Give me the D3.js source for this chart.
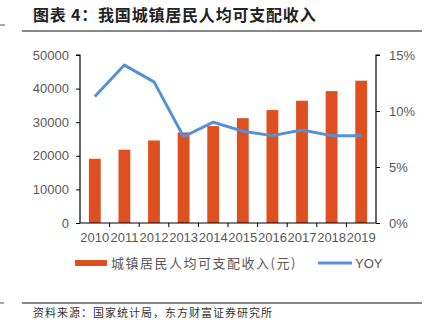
<!DOCTYPE html>
<html><head><meta charset="utf-8">
<script src="https://cdn.jsdelivr.net/npm/d3@7/dist/d3.min.js"></script>
<style>body{margin:0;background:#fff;} svg{display:block;}</style>
</head><body>
<svg id="c" width="431" height="331"></svg>
<script>
const years = ["2010","2011","2012","2013","2014","2015","2016","2017","2018","2019"];
const income = [19109, 21810, 24565, 26955, 28844, 31195, 33616, 36396, 39251, 42359];
const yoy = [11.3, 14.1, 12.6, 7.7, 9.0, 8.2, 7.8, 8.3, 7.8, 7.8];
const leftTicks = [0, 10000, 20000, 30000, 40000, 50000];
const rightTicks = [0, 5, 10, 15];
const titleText = "图表 4：我国城镇居民人均可支配收入";
const sourceText = "资料来源：国家统计局，东方财富证券研究所";
const barLabel = "城镇居民人均可支配收入(元)";
const lineLabel = "YOY";

const svg = d3.select("#c");
const m = {l: 80, r: 376, t: 55, b: 223};
const x = d3.scaleBand().domain(years).range([m.l, m.r]).paddingInner(0.6).paddingOuter(0.3);
const xb = d3.scaleBand().domain(years).range([m.l, m.r]);
const yL = d3.scaleLinear().domain([0, 50000]).range([m.b, m.t]);
const yR = d3.scaleLinear().domain([0, 15]).range([m.b, m.t]);
const font = "Arial, 'Liberation Sans', sans-serif";
const cjk = "'Noto Sans CJK SC', sans-serif";

// title
svg.append("text").attr("x", 33).attr("y", 21).text(titleText)
  .attr("font-family", cjk).attr("font-weight", "bold").attr("font-size", 16)
  .attr("letter-spacing", 0.8).attr("fill", "#222");
svg.append("line").attr("x1", 22).attr("x2", 422).attr("y1", 31).attr("y2", 31).attr("stroke", "#111").attr("stroke-width", 1);
svg.append("line").attr("x1", 0).attr("x2", 5).attr("y1", 25).attr("y2", 25).attr("stroke", "#555").attr("stroke-width", 1);

// bars
svg.append("g").selectAll("rect").data(income).join("rect")
  .attr("x", (d, i) => x(years[i])).attr("width", x.bandwidth())
  .attr("y", d => yL(d)).attr("height", d => m.b - yL(d))
  .attr("fill", "#DE5020");

// line
svg.append("path").datum(yoy)
  .attr("d", d3.line().x((d, i) => xb(years[i]) + xb.bandwidth() / 2).y(d => yR(d)))
  .attr("fill", "none").attr("stroke", "#5591D8").attr("stroke-width", 3).attr("stroke-linejoin", "round");

// axes
const axL = svg.append("g").attr("transform", `translate(${m.l},0)`)
  .call(d3.axisLeft(yL).tickValues(leftTicks).tickSize(4).tickPadding(7).tickFormat(d3.format("d")));
const axR = svg.append("g").attr("transform", `translate(${m.r},0)`)
  .call(d3.axisRight(yR).tickValues(rightTicks).tickSize(4).tickPadding(9).tickFormat(d => d + "%"));
const axB = svg.append("g").attr("transform", `translate(0,${m.b})`)
  .call(d3.axisBottom(xb).tickSize(0).tickPadding(10));
// boundary ticks on x axis
svg.append("g").selectAll("line").data(years.slice(1)).join("line")
  .attr("x1", d => xb(d)).attr("x2", d => xb(d)).attr("y1", m.b).attr("y2", m.b + 4)
  .attr("stroke", "#000");
[axL, axR, axB].forEach(a => {
  a.select(".domain").attr("stroke", "#000").attr("stroke-width", 1.2);
  a.selectAll(".tick line").attr("stroke", "#000");
  a.selectAll("text").attr("font-family", font).attr("font-size", 13).attr("fill", "#595959");
});
axB.selectAll(".domain").attr("d", `M${m.l},0H${m.r}`);
axL.select(".domain").attr("d", `M-4,${m.t}H0V${m.b}`);
axR.select(".domain").attr("d", `M4,${m.t}H0V${m.b}`);

// legend
const lg = svg.append("g");
lg.append("rect").attr("x", 75).attr("y", 260).attr("width", 32).attr("height", 6).attr("fill", "#DE5020");
lg.append("text").attr("x", 111).attr("y", 268).text(barLabel)
  .attr("font-family", cjk).attr("font-size", 13).attr("fill", "#595959").attr("letter-spacing", 1.5);
lg.append("line").attr("x1", 318).attr("x2", 352).attr("y1", 263).attr("y2", 263)
  .attr("stroke", "#5591D8").attr("stroke-width", 3);
lg.append("text").attr("x", 355).attr("y", 268).text(lineLabel)
  .attr("font-family", font).attr("font-size", 13).attr("fill", "#595959");

// footer
svg.append("line").attr("x1", 22).attr("x2", 422).attr("y1", 303).attr("y2", 303).attr("stroke", "#111").attr("stroke-width", 1);
svg.append("line").attr("x1", 0).attr("x2", 4).attr("y1", 303).attr("y2", 303).attr("stroke", "#555").attr("stroke-width", 1);
svg.append("text").attr("x", 33).attr("y", 317).text(sourceText)
  .attr("font-family", cjk).attr("font-size", 11).attr("fill", "#333").attr("letter-spacing", 1.0);
</script>
</body></html>
